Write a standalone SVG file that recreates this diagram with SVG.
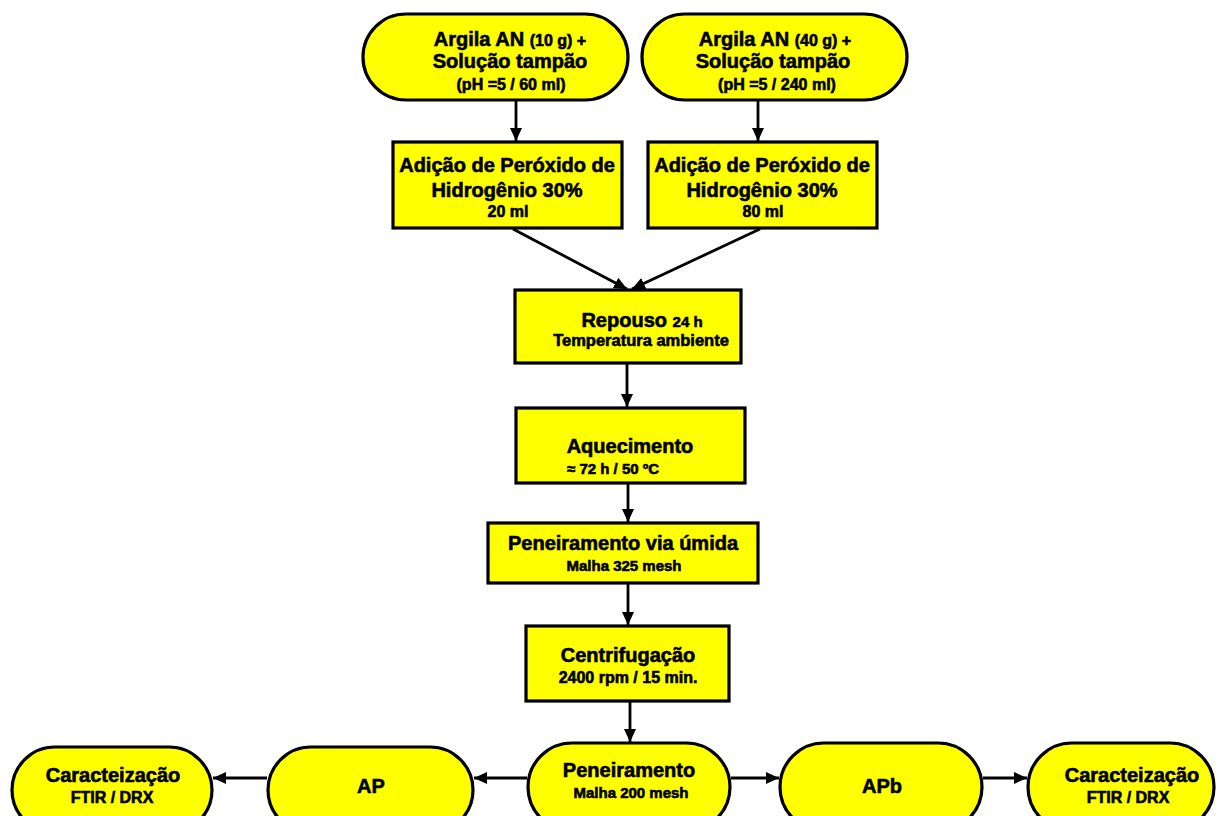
<svg xmlns="http://www.w3.org/2000/svg" width="1219" height="816" viewBox="0 0 1219 816">
  <style>
    .box { fill: #FFFF00; stroke: #000; stroke-width: 3.2; }
    .t { font-family: "Liberation Sans", Arial, sans-serif; font-weight: bold; fill: #000; stroke: #000; stroke-width: 0.6; text-anchor: middle; }
    .big { font-size: 20px; }
    .mid { font-size: 16px; }
    .sm { font-size: 15px; }
    .edge { stroke: #000; stroke-width: 2.8; fill: none; marker-end: url(#arrow); }
  </style>
  <defs>
    <marker id="arrow" markerUnits="userSpaceOnUse" markerWidth="14" markerHeight="14" viewBox="0 0 14 14" refX="13" refY="7" orient="auto">
      <path d="M0,1 L13,7 L0,13 Z" fill="#000"/>
    </marker>
  </defs>
  <rect width="1219" height="816" fill="#fff"/>

  <!-- connectors -->
  <g id="connectors">
    <line class="edge" x1="516" y1="101" x2="516" y2="141"/>
    <line class="edge" x1="758" y1="101" x2="758" y2="141"/>
    <line class="edge" x1="513" y1="229" x2="627" y2="289"/>
    <line class="edge" x1="760" y1="229" x2="632" y2="289"/>
    <line class="edge" x1="627" y1="364" x2="627" y2="407"/>
    <line class="edge" x1="628" y1="484" x2="628" y2="522"/>
    <line class="edge" x1="628" y1="584" x2="628" y2="625"/>
    <line class="edge" x1="630" y1="702" x2="630" y2="742"/>
    <line class="edge" x1="527" y1="778" x2="474" y2="778"/>
    <line class="edge" x1="267" y1="778" x2="213" y2="778"/>
    <line class="edge" x1="731" y1="778" x2="779" y2="778"/>
    <line class="edge" x1="983" y1="778" x2="1027" y2="778"/>
  </g>

  <!-- starting materials -->
  <g id="argila10">
    <rect class="box" x="363" y="14" width="265" height="86" rx="43" ry="43"/>
    <text class="t big" x="510" y="46">Argila AN <tspan class="mid">(10 g) +</tspan></text>
    <text class="t big" x="510" y="68">Solução tampão</text>
    <text class="t mid" x="511" y="90">(pH =5 / 60 ml)</text>
  </g>
  <g id="argila40">
    <rect class="box" x="642" y="14" width="265" height="86" rx="43" ry="43"/>
    <text class="t big" x="775" y="46">Argila AN <tspan class="mid">(40 g)  +</tspan></text>
    <text class="t big" x="773" y="68">Solução tampão</text>
    <text class="t mid" x="777" y="90">(pH =5 / 240 ml)</text>
  </g>

  <!-- peroxide addition -->
  <g id="peroxido20">
    <rect class="box" x="393" y="142" width="229" height="86"/>
    <text class="t big" x="507" y="172">Adição de Peróxido de</text>
    <text class="t big" x="507" y="197">Hidrogênio 30%</text>
    <text class="t mid" x="508" y="217">20 ml</text>
  </g>
  <g id="peroxido80">
    <rect class="box" x="648" y="142" width="229" height="86"/>
    <text class="t big" x="762" y="172">Adição de Peróxido de</text>
    <text class="t big" x="762" y="197">Hidrogênio 30%</text>
    <text class="t mid" x="763" y="217">80 ml</text>
  </g>

  <!-- process steps -->
  <g id="repouso">
    <rect class="box" x="515" y="290" width="226" height="73"/>
    <text class="t" x="642" y="327"><tspan font-size="20">Repouso </tspan><tspan font-size="15">24 h</tspan></text>
    <text class="t" x="641" y="346" font-size="16.5">Temperatura ambiente</text>
  </g>
  <g id="aquecimento">
    <rect class="box" x="516" y="408" width="229" height="75"/>
    <text class="t big" x="630" y="453">Aquecimento</text>
    <text class="t sm" x="567" y="474" style="text-anchor:start">≈ 72 h / 50 ºC</text>
  </g>
  <g id="peneiramento-umido">
    <rect class="box" x="488" y="523" width="270" height="60"/>
    <text class="t big" x="623" y="550">Peneiramento via úmida</text>
    <text class="t sm" x="624" y="571">Malha 325  mesh</text>
  </g>
  <g id="centrifugacao">
    <rect class="box" x="526" y="626" width="203" height="75"/>
    <text class="t big" x="628" y="662">Centrifugação</text>
    <text class="t mid" x="628" y="683">2400 rpm / 15 min.</text>
  </g>

  <!-- final sieving and products -->
  <g id="peneiramento">
    <rect class="box" x="528" y="743" width="202" height="88" rx="44" ry="44"/>
    <text class="t big" x="629" y="777">Peneiramento</text>
    <text class="t sm" x="631" y="798">Malha 200 mesh</text>
  </g>
  <g id="ap">
    <rect class="box" x="268" y="747" width="205" height="86" rx="43" ry="43"/>
    <text class="t big" x="371" y="793">AP</text>
  </g>
  <g id="caracterizacao-ap">
    <rect class="box" x="12" y="747" width="200" height="86" rx="43" ry="43"/>
    <text class="t big" x="113" y="782">Caracteização</text>
    <text class="t mid" x="112" y="803">FTIR /  DRX</text>
  </g>
  <g id="apb">
    <rect class="box" x="780" y="743" width="202" height="88" rx="44" ry="44"/>
    <text class="t big" x="882" y="793">APb</text>
  </g>
  <g id="caracterizacao-apb">
    <rect class="box" x="1028" y="743" width="186" height="88" rx="44" ry="44"/>
    <text class="t big" x="1132" y="782">Caracteização</text>
    <text class="t mid" x="1128" y="803">FTIR /  DRX</text>
  </g>
</svg>
